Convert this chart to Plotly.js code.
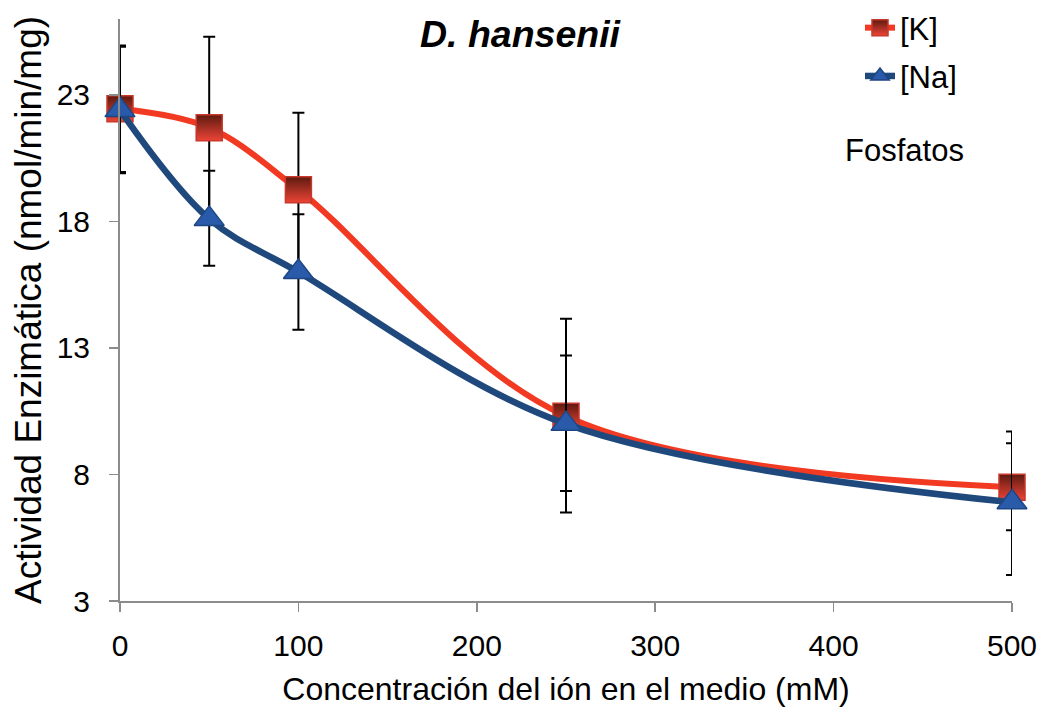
<!DOCTYPE html>
<html>
<head>
<meta charset="utf-8">
<script src="https://cdn.plot.ly/plotly-3.0.1.min.js"></script>
<style>
  html, body { margin: 0; padding: 0; background: #ffffff; }
  #chart { width: 1040px; height: 707px; }
</style>
</head>
<body>
<div id="chart"></div>
<script>
// Concentración del ión (mM)
const concentracion = [0, 50, 100, 250, 500];

// Actividad enzimática con potasio [K]
const actividadK = [22.45, 21.7, 19.25, 10.3, 7.5];
const errKmas = [2.5, 3.6, 3.05, 3.85, 2.2];
const errKmenos = [2.5, 3.6, 3.05, 3.8, 1.7];

// Actividad enzimática con sodio [Na]
const actividadNa = [22.4, 18.1, 16.0, 10.0, 6.9];
const errNamas = [2.5, 1.9, 2.28, 2.7, 2.33];
const errNamenos = [2.5, 1.85, 2.28, 2.65, 2.87];

const ticksX = [0, 100, 200, 300, 400, 500];
const ticksY = [3, 8, 13, 18, 23];

const fontFam = '"Liberation Sans", Arial, sans-serif';

const traces = [
  {
    name: '[K]',
    legendgroup: 'k',
    x: concentracion,
    y: actividadK,
    type: 'scatter',
    mode: 'lines+markers',
    cliponaxis: false,
    line: { color: '#F23A22', width: 6, shape: 'spline', smoothing: 1 },
    marker: {
      symbol: 'square', size: 26, color: '#5E1A10',
      gradient: { type: 'vertical', color: '#EC4436' },
      line: { color: '#C8382C', width: 1.5 }
    },
    error_y: {
      type: 'data', symmetric: false,
      array: errKmas, arrayminus: errKmenos,
      color: '#000000', thickness: 2, width: 6
    }
  },
  {
    name: '[Na]',
    legendgroup: 'na',
    x: concentracion,
    y: actividadNa,
    type: 'scatter',
    mode: 'lines+markers',
    cliponaxis: false,
    line: { color: '#1F497D', width: 6.5, shape: 'spline', smoothing: 1 },
    marker: {
      symbol: 'triangle-up', size: 26, color: '#2A5BAA',
      line: { color: '#1E4684', width: 1.5 }
    },
    error_y: {
      type: 'data', symmetric: false,
      array: errNamas, arrayminus: errNamenos,
      color: '#000000', thickness: 2, width: 6
    }
  }
];

const layout = {
  width: 1040,
  height: 707,
  paper_bgcolor: '#ffffff',
  plot_bgcolor: '#ffffff',
  margin: { l: 120, r: 28, t: 19, b: 106, autoexpand: false },
  font: { family: fontFam, color: '#000000', size: 30 },
  title: {
    text: '<b><i>D. hansenii</i></b>',
    font: { family: fontFam, size: 37.5, color: '#000000' },
    xref: 'container', x: 0.5, xanchor: 'center',
    yref: 'container', y: 1 - 34 / 707, yanchor: 'middle'
  },
  xaxis: {
    range: [0, 500],
    tickvals: ticksX,
    ticktext: ticksX.map(String),
    showgrid: false,
    zeroline: false,
    showline: true,
    linecolor: '#8C8C8C',
    linewidth: 2,
    ticks: 'outside',
    ticklen: 9,
    tickwidth: 1.5,
    tickcolor: '#8C8C8C',
    ticklabelstandoff: 8,
    tickfont: { family: fontFam, size: 30, color: '#000000' },
    title: {
      text: 'Concentración del ión en el medio (mM)',
      font: { family: fontFam, size: 32, color: '#000000' },
      standoff: 17
    },
    automargin: false,
    fixedrange: true
  },
  yaxis: {
    range: [3, 26],
    tickvals: ticksY,
    ticktext: ticksY.map(String),
    showgrid: false,
    zeroline: false,
    showline: true,
    linecolor: '#8C8C8C',
    linewidth: 2,
    ticks: 'outside',
    ticklen: 9,
    tickwidth: 1.5,
    tickcolor: '#8C8C8C',
    ticklabelstandoff: 13,
    tickfont: { family: fontFam, size: 30, color: '#000000' },
    title: {
      text: 'Actividad Enzimática (nmol/min/mg)',
      font: { family: fontFam, size: 37, color: '#000000' },
      standoff: 4
    },
    automargin: false,
    fixedrange: true
  },
  showlegend: true,
  legend: {
    x: (860 - 120) / 892,
    xanchor: 'left',
    yref: 'container',
    y: 1 - 1 / 707,
    yanchor: 'top',
    bgcolor: 'rgba(0,0,0,0)',
    font: { family: fontFam, size: 31, color: '#000000' },
    tracegroupgap: 5
  },
  annotations: [
    {
      text: 'Fosfatos',
      xref: 'paper', yref: 'paper',
      x: (843 - 120) / 892, xanchor: 'left',
      y: (601 - 150) / 582, yanchor: 'middle',
      showarrow: false,
      font: { family: fontFam, size: 31, color: '#000000' }
    }
  ]
};

Plotly.newPlot('chart', traces, layout, { displayModeBar: false, staticPlot: true });
</script>
</body>
</html>
